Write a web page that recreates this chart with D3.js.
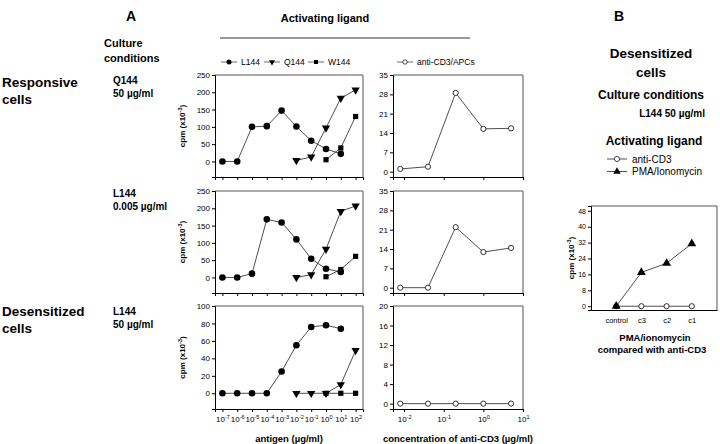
<!DOCTYPE html>
<html><head><meta charset="utf-8">
<script src="https://cdn.jsdelivr.net/npm/d3@7"></script>
<style>
body{margin:0;background:#fff}
svg{display:block}
text{font-family:"Liberation Sans",Arial,sans-serif;fill:#000}
</style>
</head><body>
<svg id="chart" width="720" height="444"></svg>
<script>
// ---------- DATA ----------
const antigenDoses = [1e-7,1e-6,1e-5,1e-4,1e-3,1e-2,1e-1,1,10,100];
const antigenTickExps = [-7,-6,-5,-4,-3,-2,-1,0,1,2];
// row 1: Responsive cells, Q144 50 µg/ml
const l144Row1 = [0,0,100,102,147,101,60,36,22,null];
const q144Row1 = [null,null,null,null,null,3,13,97,183,207];
const w144Row1 = [null,null,null,null,null,null,null,5,39,130];
// row 2: Responsive cells, L144 0.005 µg/ml
const l144Row2 = [0,0,11,168,159,110,54,25,16,null];
const q144Row2 = [null,null,null,null,null,0,8,82,191,207];
const w144Row2 = [null,null,null,null,null,null,null,2,23,61];
// row 3: Desensitized cells, L144 50 µg/ml
const l144Row3 = [0,0,0,0,25,55,76,78,74,null];
const q144Row3 = [null,null,null,null,null,0,0,0,10,49];
const w144Row3 = [null,null,null,null,null,null,null,0,0,0];

const antiCD3Doses = [0.008,0.04,0.2,1,5];
const antiCD3TickExps = [-2,-1,0,1];
const antiCD3Row1 = [1,1.8,28.5,15.5,15.7];
const antiCD3Row2 = [0,0,21.9,12.9,14.4];
const antiCD3Row3 = [0,0,0,0,0];

const leftYTicks = [[0,50,100,150,200,250],[0,50,100,150,200,250],[0,20,40,60,80,100]];
const rightYTicks = [[0,7,14,21,28,35],[0,7,14,21,28,35],[0,4,8,12,16,20]];

const rowCultureLabels = [["Q144","50 µg/ml"],["L144","0.005 µg/ml"],["L144","50 µg/ml"]];

const bCategories = ["control","c3","c2","c1"];
const bAntiCD3 = [0,0,0,0];
const bPMA = [0,17,21.6,31.5];
const bYTicks = [0,8,16,24,32,40,48];

// ---------- LAYOUT ----------
const svg = d3.select("#chart");
const rowTops = [75,191,306];
const rowBottoms = [177,293,409];
const leftX = [215,363];
const rightX = [393,523];
const FONT = '"Liberation Sans",Arial,sans-serif';

const xLeft = d3.scaleLog().domain([Math.pow(10,-7.5),Math.pow(10,2.5)]).range(leftX);
const xRight = d3.scaleLog().domain([Math.pow(10,-2.28),10]).range(rightX);

function supLabel(sel, exp){
  sel.text("10").append("tspan").attr("dy",-3).attr("font-size",5.5).text(exp);
}

function cpmLabel(g, x, y){
  const t = g.append("text").attr("transform",`translate(${x},${y}) rotate(-90)`)
    .attr("text-anchor","middle").attr("font-size",8).attr("font-weight","bold");
  t.append("tspan").text("cpm (x10");
  t.append("tspan").attr("dy",-3).attr("font-size",5.5).text("-3");
  t.append("tspan").attr("dy",3).text(")");
}

function frame(g, x0, x1, y0, y1){
  g.append("line").attr("x1",x0).attr("x2",x1).attr("y1",y0).attr("y2",y0).attr("stroke","#8c8c8c").attr("stroke-width",1.3);
  g.append("line").attr("x1",x1).attr("x2",x1).attr("y1",y0).attr("y2",y1).attr("stroke","#6f6f6f").attr("stroke-width",1.2);
}

function yAxis(g, y, ticks, x0, fs){
  const ax = d3.axisLeft(y).tickValues(ticks).tickSize(3).tickPadding(2);
  const a = g.append("g").attr("transform",`translate(${x0},0)`).call(ax);
  a.select(".domain").attr("stroke","#000").attr("stroke-width",1);
  a.selectAll("text").attr("font-size",fs||8).attr("font-family",FONT).attr("fill","#111");
}

function xAxisLog(g, x, exps, yb, labels){
  const vals = exps.map(e=>Math.pow(10,e));
  const ax = d3.axisBottom(x).tickValues(vals).tickSize(3).tickFormat("");
  const a = g.append("g").attr("transform",`translate(0,${yb})`).call(ax);
  a.select(".domain").attr("stroke","#000").attr("stroke-width",1);
  if(labels){
    a.selectAll(".tick").append("text")
      .attr("y",13).attr("text-anchor","middle").attr("font-size",8).attr("font-family",FONT).attr("fill","#111")
      .each(function(d){ supLabel(d3.select(this), Math.round(Math.log10(d))); });
  }
}

function series(g, x, y, xs, ys, marker){
  const pts = xs.map((d,i)=>[d,ys[i]]).filter(p=>p[1]!==null);
  g.append("path").datum(pts)
    .attr("d", d3.line().x(p=>x(p[0])).y(p=>y(p[1])))
    .attr("fill","none").attr("stroke","#222").attr("stroke-width",0.8);
  const m = g.append("g");
  pts.forEach(p=>{
    const cx = x(p[0]), cy = y(p[1]);
    if(marker==="circle") m.append("circle").attr("cx",cx).attr("cy",cy).attr("r",3.3).attr("fill","#000");
    else if(marker==="open") m.append("circle").attr("cx",cx).attr("cy",cy).attr("r",2.6).attr("fill","#fff").attr("stroke","#000").attr("stroke-width",0.8);
    else if(marker==="down") m.append("path").attr("d",d3.symbol(d3.symbolTriangle,30)()).attr("transform",`translate(${cx},${cy}) rotate(180)`).attr("fill","#000");
    else if(marker==="up") m.append("path").attr("d",d3.symbol(d3.symbolTriangle,34)()).attr("transform",`translate(${cx},${cy})`).attr("fill","#000");
    else if(marker==="square") m.append("rect").attr("x",cx-2.6).attr("y",cy-2.6).attr("width",5.2).attr("height",5.2).attr("fill","#000");
  });
}

const lRows = [[l144Row1,q144Row1,w144Row1],[l144Row2,q144Row2,w144Row2],[l144Row3,q144Row3,w144Row3]];
const rRows = [antiCD3Row1,antiCD3Row2,antiCD3Row3];

for(let r=0;r<3;r++){
  const top=rowTops[r], bot=rowBottoms[r];
  // left panel
  const lt = leftYTicks[r], lmax = lt[lt.length-1];
  const yL = d3.scaleLinear().domain([-0.18*lmax,lmax]).range([bot,top]);
  const gL = svg.append("g");
  frame(gL, leftX[0], leftX[1], top, bot);
  yAxis(gL, yL, lt, leftX[0]);
  xAxisLog(gL, xLeft, antigenTickExps, bot, r===2);
  series(gL, xLeft, yL, antigenDoses, lRows[r][0], "circle");
  series(gL, xLeft, yL, antigenDoses, lRows[r][1], "down");
  series(gL, xLeft, yL, antigenDoses, lRows[r][2], "square");
  cpmLabel(gL, 185, (top+bot)/2);
  // right panel
  const rt = rightYTicks[r], rmax = rt[rt.length-1];
  const yR = d3.scaleLinear().domain([-0.055*rmax,rmax]).range([bot,top]);
  const gR = svg.append("g");
  frame(gR, rightX[0], rightX[1], top, bot);
  yAxis(gR, yR, rt, rightX[0]);
  xAxisLog(gR, xRight, antiCD3TickExps, bot, r===2);
  series(gR, xRight, yR, antiCD3Doses, rRows[r], "open");
  // culture labels
  const cl = rowCultureLabels[r];
  const cy0 = [84,197,315][r];
  svg.append("text").attr("x",113).attr("y",cy0).attr("font-size",10).attr("font-weight","bold").text(cl[0]);
  svg.append("text").attr("x",113).attr("y",cy0+12.7).attr("font-size",10).attr("font-weight","bold").text(cl[1]);
}

// axis titles
svg.append("text").attr("x",289).attr("y",442).attr("text-anchor","middle").attr("font-size",9.5).attr("font-weight","bold").text("antigen (µg/ml)");
svg.append("text").attr("x",458).attr("y",442).attr("text-anchor","middle").attr("font-size",9.5).attr("font-weight","bold").text("concentration of anti-CD3 (µg/ml)");

// header A
svg.append("text").attr("x",126).attr("y",21).attr("font-size",14).attr("font-weight","bold").text("A");
svg.append("text").attr("x",325).attr("y",22).attr("text-anchor","middle").attr("font-size",11).attr("font-weight","bold").text("Activating ligand");
svg.append("line").attr("x1",220).attr("x2",470).attr("y1",38).attr("y2",38).attr("stroke","#777").attr("stroke-width",1.5);
svg.append("text").attr("x",104).attr("y",47).attr("font-size",11).attr("font-weight","bold").text("Culture");
svg.append("text").attr("x",104).attr("y",62).attr("font-size",11).attr("font-weight","bold").text("conditions");
svg.append("text").attr("x",2).attr("y",87).attr("font-size",13.5).attr("font-weight","bold").text("Responsive");
svg.append("text").attr("x",2).attr("y",103.5).attr("font-size",13.5).attr("font-weight","bold").text("cells");
svg.append("text").attr("x",2).attr("y",316).attr("font-size",13.5).attr("font-weight","bold").text("Desensitized");
svg.append("text").attr("x",2).attr("y",333).attr("font-size",13.5).attr("font-weight","bold").text("cells");

// legend A
const legA = [["circle","L144",229],["down","Q144",272],["square","W144",316],["open","anti-CD3/APCs",405]];
legA.forEach(([m,t,cx])=>{
  const g = svg.append("g");
  const ly = 62;
  g.append("line").attr("x1",cx-8).attr("x2",cx+8).attr("y1",ly).attr("y2",ly).attr("stroke","#444").attr("stroke-width",0.8);
  if(m==="circle") g.append("circle").attr("cx",cx).attr("cy",ly).attr("r",2.5).attr("fill","#000");
  if(m==="open") g.append("circle").attr("cx",cx).attr("cy",ly).attr("r",2.2).attr("fill","#fff").attr("stroke","#000").attr("stroke-width",0.7);
  if(m==="down") g.append("path").attr("d",d3.symbol(d3.symbolTriangle,16)()).attr("transform",`translate(${cx},${ly}) rotate(180)`).attr("fill","#000");
  if(m==="square") g.append("rect").attr("x",cx-2).attr("y",ly-2).attr("width",4).attr("height",4).attr("fill","#000");
  g.append("text").attr("x",cx+12).attr("y",ly+3).attr("font-size",8.5).text(t);
});

// ---------- PANEL B ----------
svg.append("text").attr("x",614).attr("y",21).attr("font-size",14).attr("font-weight","bold").text("B");
svg.append("text").attr("x",651).attr("y",58).attr("text-anchor","middle").attr("font-size",13.5).attr("font-weight","bold").text("Desensitized");
svg.append("text").attr("x",651).attr("y",77).attr("text-anchor","middle").attr("font-size",13.5).attr("font-weight","bold").text("cells");
svg.append("text").attr("x",651).attr("y",99).attr("text-anchor","middle").attr("font-size",12).attr("font-weight","bold").text("Culture conditions");
svg.append("text").attr("x",705).attr("y",116.5).attr("text-anchor","end").attr("font-size",10).attr("font-weight","bold").text("L144 50 µg/ml");
svg.append("text").attr("x",654).attr("y",145).attr("text-anchor","middle").attr("font-size",12).attr("font-weight","bold").text("Activating ligand");
[["open","anti-CD3",159],["up","PMA/Ionomycin",171.5]].forEach(([m,t,ly])=>{
  const cx=617, g=svg.append("g");
  g.append("line").attr("x1",cx-10).attr("x2",cx+10).attr("y1",ly).attr("y2",ly).attr("stroke","#222").attr("stroke-width",0.8);
  if(m==="open") g.append("circle").attr("cx",cx).attr("cy",ly).attr("r",2.6).attr("fill","#fff").attr("stroke","#000").attr("stroke-width",0.7);
  else g.append("path").attr("d",d3.symbol(d3.symbolTriangle,24)()).attr("transform",`translate(${cx},${ly})`).attr("fill","#000");
  g.append("text").attr("x",cx+15).attr("y",ly+3.5).attr("font-size",10).text(t);
});

const bTop=206, bBot=310, bX=[591,717];
const xB = d3.scalePoint().domain(bCategories).range(bX).padding(1);
const yB = d3.scaleLinear().domain([-1.9,50.4]).range([bBot,bTop]);
const gB = svg.append("g");
frame(gB, bX[0], bX[1], bTop, bBot);
yAxis(gB, yB, bYTicks, bX[0], 7);
const axB = gB.append("g").attr("transform",`translate(0,${bBot})`).call(d3.axisBottom(xB).tickSize(0).tickPadding(8));
axB.select(".domain").attr("stroke","#000");
axB.selectAll("text").attr("font-size",7.5).attr("font-family",FONT).attr("fill","#111");
cpmLabel(gB, 574, (bTop+bBot)/2);
series(gB, xB, yB, bCategories, bAntiCD3, "open");
series(gB, xB, yB, bCategories, bPMA, "up");
svg.append("text").attr("x",655).attr("y",341).attr("text-anchor","middle").attr("font-size",9.5).attr("font-weight","bold").text("PMA/ionomycin");
svg.append("text").attr("x",652).attr("y",353).attr("text-anchor","middle").attr("font-size",9.5).attr("font-weight","bold").text("compared with anti-CD3");
</script>
</body></html>
